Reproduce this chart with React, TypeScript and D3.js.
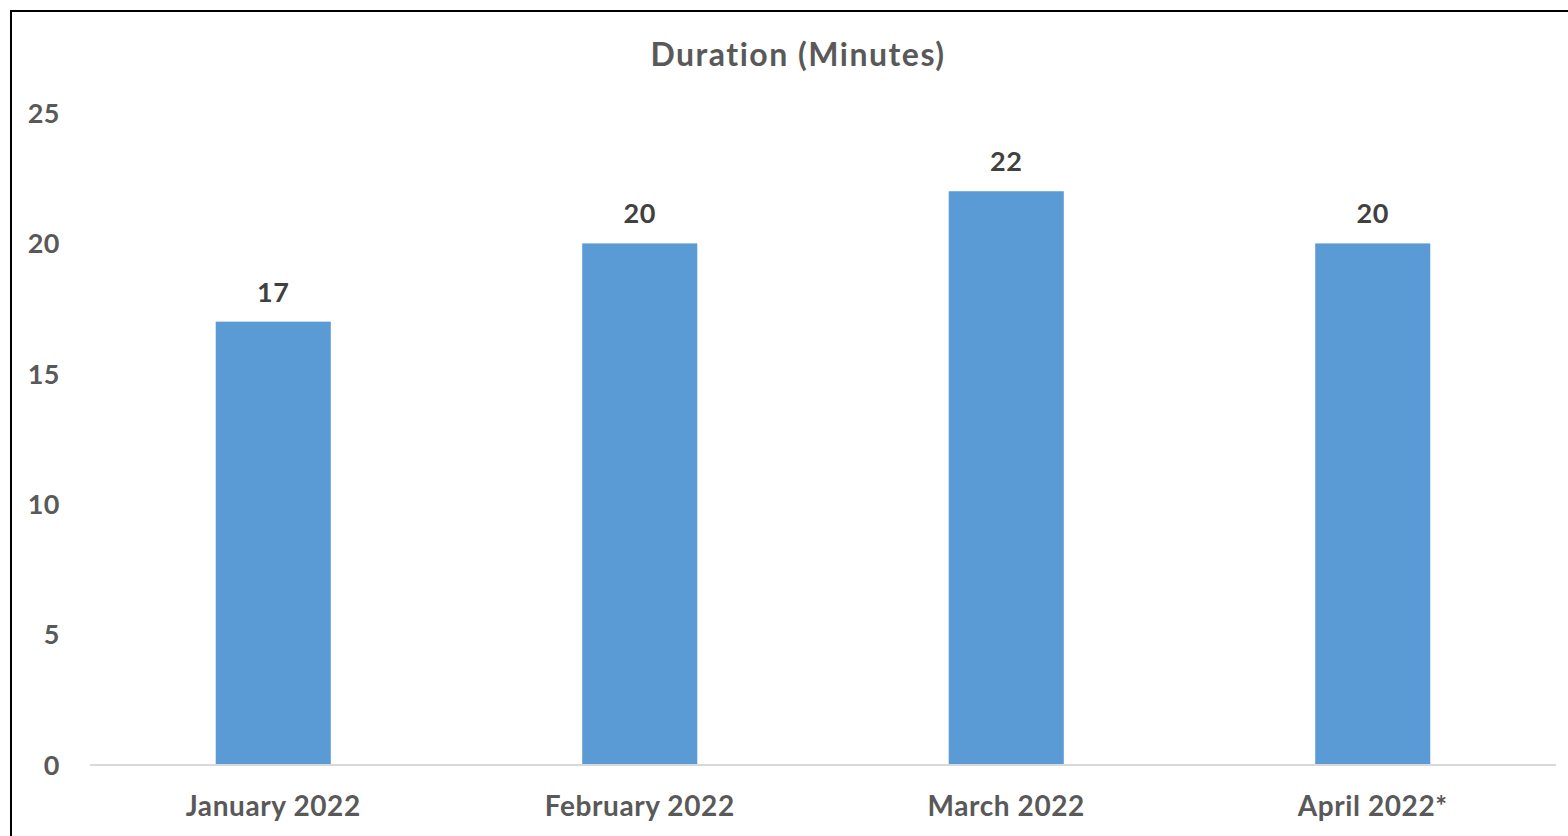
import React from "react";
import * as d3 from "d3";

const categories = ["January 2022", "February 2022", "March 2022", "April 2022*"];
const durations = [17, 20, 22, 20];
const yTicks = [0, 5, 10, 15, 20, 25];
const title = "Duration (Minutes)";

const W = 1568;
const H = 836;
const FONT = "Lato, 'Open Sans', sans-serif";
const txtStyle = { fontVariantLigatures: "none" as const };

export default function App() {
  const x = d3.scaleBand<string>().domain(categories).range([90, 1556]).paddingInner(0.686).paddingOuter(0.343);
  const y = d3.scaleLinear().domain([0, 25]).range([765, 113]);

  return (
    <svg width={W} height={H} style={{ position: "fixed", left: 0, top: 0, background: "#fff" }}>
      <rect x={0} y={0} width={W} height={H} fill="#fff" />
      <rect x={11} y={11} width={W + 100} height={H + 100} fill="none" stroke="#000" strokeWidth={2} />
      <text x={798} y={66} textAnchor="middle" fontFamily={FONT} fontWeight={700} fontSize={32} letterSpacing={1.5} fill="#595959" style={txtStyle}>
        {title}
      </text>
      {yTicks.map((t) => (
        <text key={t} x={60} y={y(t)} dy="0.36em" textAnchor="end" fontFamily={FONT} fontWeight={700} fontSize={27} letterSpacing={0.5} fill="#595959" style={txtStyle}>
          {t}
        </text>
      ))}
      {categories.map((c, i) => (
        <g key={c}>
          <rect x={x(c)} y={y(durations[i])} width={x.bandwidth()} height={y(0) - y(durations[i])} fill="#5B9BD5" />
          <text x={(x(c) as number) + x.bandwidth() / 2} y={y(durations[i]) - 20} textAnchor="middle" fontFamily={FONT} fontWeight={700} fontSize={27} letterSpacing={0.5} fill="#404040" style={txtStyle}>
            {durations[i]}
          </text>
          <text x={(x(c) as number) + x.bandwidth() / 2} y={816} textAnchor="middle" fontFamily={FONT} fontWeight={700} fontSize={28} letterSpacing={0.6} fill="#595959" style={txtStyle}>
            {c}
          </text>
        </g>
      ))}
      <line x1={90} x2={1556} y1={y(0)} y2={y(0)} stroke="#D9D9D9" strokeWidth={2} />
    </svg>
  );
}
